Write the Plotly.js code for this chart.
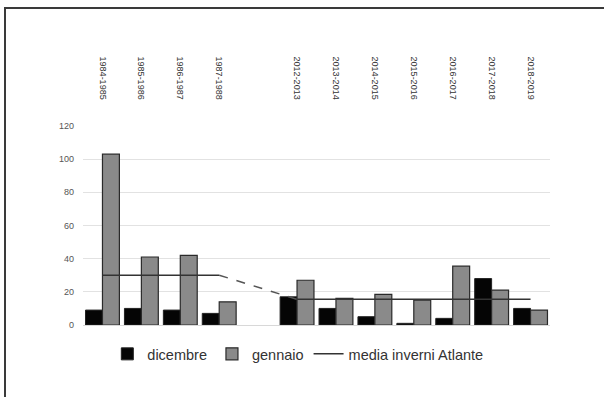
<!DOCTYPE html>
<html>
<head>
<meta charset="utf-8">
<script src="https://cdn.plot.ly/plotly-3.0.1.min.js"></script>
<style>
  html, body { margin: 0; padding: 0; background: #fff; }
  #wrap { position: relative; width: 604px; height: 397px; overflow: hidden; }
  #frame { position: absolute; left: 4px; top: 7px; width: 620px; height: 420px;
           border-top: 2px solid #3a3a3a; border-left: 2px solid #3a3a3a; pointer-events: none; }
  #chart { position: absolute; left: 0; top: 0; width: 604px; height: 397px; }
</style>
</head>
<body>
<div id="wrap">
  <div id="chart"></div>
  <div id="frame"></div>
</div>
<script>
// Winter seasons; the blank entry separates the 1980s block from the 2010s block
const seasons = ["1984-1985", "1985-1986", "1986-1987", "1987-1988", " ",
                 "2012-2013", "2013-2014", "2014-2015", "2015-2016",
                 "2016-2017", "2017-2018", "2018-2019"];
const dicembre = [9, 10, 9, 7, null, 17, 10, 5, 1, 4, 28, 10];
const gennaio  = [103, 41, 42, 14, null, 27, 16, 18.5, 15, 35.5, 21, 9];
// Mean of the Atlante winters, one value per period
const mediaAtlante = [30, 30, 30, 30, null, 15.5, 15.5, 15.5, 15.5, 15.5, 15.5, 15.5];
// Dashed link between the two periods
const linkSeasons = ["1987-1988", "2012-2013"];
const linkValues = [30, 15.5];

const fontFamily = "Liberation Sans, Arial, sans-serif";

const traces = [
  {
    type: "bar", name: "dicembre", x: seasons, y: dicembre,
    marker: { color: "#050505", line: { color: "#222", width: 1 } }
  },
  {
    type: "bar", name: "gennaio", x: seasons, y: gennaio,
    marker: { color: "#8a8a8a", line: { color: "#2a2a2a", width: 1.2 } }
  },
  {
    type: "scatter", mode: "lines", name: "media inverni Atlante",
    x: seasons, y: mediaAtlante, connectgaps: false,
    line: { color: "#333", width: 1.5 }
  },
  {
    type: "scatter", mode: "lines", showlegend: false,
    x: linkSeasons, y: linkValues,
    line: { color: "#555", width: 1.5, dash: "dash" }
  }
];

const layout = {
  width: 604, height: 397,
  margin: { l: 83, r: 54, t: 126, b: 72 },
  paper_bgcolor: "#fff", plot_bgcolor: "#fff",
  font: { family: fontFamily, color: "#444" },
  barmode: "group", bargap: 0.13, bargroupgap: 0,
  showlegend: true,
  xaxis: {
    type: "category", categoryorder: "array", categoryarray: seasons,
    side: "top", tickangle: 90, ticklabelstandoff: 24,
    tickfont: { size: 9, color: "#333" },
    showgrid: false, showline: false, ticks: "", zeroline: false
  },
  yaxis: {
    range: [0, 120], dtick: 20, tick0: 0,
    tickfont: { size: 9, color: "#555" },
    ticklabelstandoff: 8,
    showgrid: true, gridcolor: "#e2e2e2", gridwidth: 1,
    zeroline: true, zerolinecolor: "#d8d8d8", zerolinewidth: 1,
    showline: false, ticks: "", fixedrange: true
  },
  legend: {
    orientation: "h", x: 0.46, xanchor: "center", y: -0.065, yanchor: "top",
    font: { size: 14.5, color: "#333" }, itemwidth: 30,
    bgcolor: "rgba(0,0,0,0)"
  }
};

Plotly.newPlot("chart", traces, layout, { staticPlot: true, displayModeBar: false });
</script>
</body>
</html>
